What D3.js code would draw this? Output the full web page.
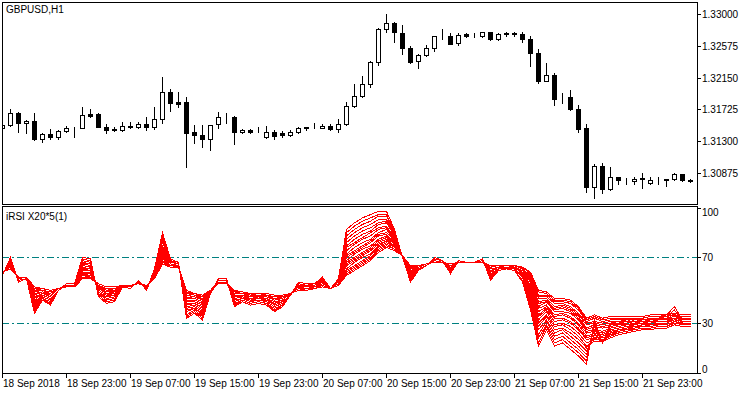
<!DOCTYPE html>
<html>
<head>
<meta charset="utf-8">
<script src="https://cdn.jsdelivr.net/npm/d3@7"></script>
<style>
  body { margin: 0; background: #fff; }
  svg { display: block; font-family: "Liberation Sans", Arial, sans-serif; font-size: 10px; }
</style>
</head>
<body>
<div class="chart"></div>
<script>
// GBPUSD H1 candles
var opens = [1.31483,1.31516,1.31677,1.31543,1.31570,1.31329,1.31396,1.31356,1.31436,1.31476,
  1.31476,1.31663,1.31663,1.31490,1.31456,1.31450,1.31503,1.31490,1.31530,1.31490,
  1.31597,1.31957,1.31824,1.31824,1.31423,1.31383,1.31329,1.31530,1.31623,1.31623,
  1.31423,1.31450,1.31436,1.31356,1.31423,1.31403,1.31383,1.31423,1.31490,1.31476,
  1.31476,1.31503,1.31463,1.31530,1.31770,1.31904,1.32064,1.32358,1.32799,1.32880,
  1.32746,1.32545,1.32372,1.32452,1.32545,1.32719,1.32706,1.32612,1.32733,1.32719,
  1.32706,1.32759,1.32666,1.32746,1.32746,1.32733,1.32666,1.32479,1.32104,1.32185,
  1.31884,1.31891,1.31730,1.31476,1.30688,1.30968,1.30661,1.30821,1.30781,1.30768,
  1.30808,1.30741,1.30781,1.30781,1.30795,1.30861,1.30781];
var highs = [1.31543,1.31730,1.31690,1.31583,1.31677,1.31409,1.31463,1.31450,1.31503,1.31490,
  1.31757,1.31730,1.31677,1.31530,1.31490,1.31557,1.31557,1.31557,1.31623,1.31757,
  1.32158,1.31998,1.31957,1.31891,1.31516,1.31516,1.31516,1.31690,1.31677,1.31637,
  1.31463,1.31463,1.31490,1.31503,1.31450,1.31430,1.31450,1.31490,1.31496,1.31543,
  1.31530,1.31530,1.31597,1.31824,1.32064,1.32171,1.32372,1.32813,1.33000,1.32893,
  1.32853,1.32572,1.32465,1.32586,1.32706,1.32799,1.32746,1.32746,1.32746,1.32746,
  1.32759,1.32766,1.32746,1.32759,1.32766,1.32759,1.32706,1.32532,1.32345,1.32211,
  1.31944,1.31984,1.31784,1.31530,1.30995,1.31008,1.30955,1.30828,1.30808,1.30815,
  1.30875,1.30815,1.30821,1.30795,1.30875,1.30861,1.30795];
var lows = [1.31463,1.31503,1.31423,1.31409,1.31316,1.31289,1.31329,1.31329,1.31423,1.31356,
  1.31470,1.31623,1.31490,1.31409,1.31436,1.31443,1.31476,1.31483,1.31450,1.31463,
  1.31543,1.31703,1.31757,1.30955,1.31276,1.31222,1.31182,1.31476,1.31543,1.31262,
  1.31409,1.31409,1.31423,1.31343,1.31329,1.31356,1.31376,1.31416,1.31450,1.31470,
  1.31470,1.31456,1.31423,1.31516,1.31757,1.31891,1.32024,1.32318,1.32759,1.32626,
  1.32465,1.32345,1.32278,1.32445,1.32505,1.32666,1.32599,1.32586,1.32693,1.32699,
  1.32693,1.32653,1.32659,1.32706,1.32706,1.32626,1.32305,1.32078,1.32098,1.31784,
  1.31810,1.31717,1.31423,1.30621,1.30541,1.30607,1.30654,1.30728,1.30728,1.30728,
  1.30674,1.30728,1.30728,1.30701,1.30781,1.30768,1.30755];
var closes = [1.31523,1.31677,1.31543,1.31570,1.31329,1.31396,1.31356,1.31436,1.31476,1.31470,
  1.31650,1.31643,1.31490,1.31450,1.31463,1.31503,1.31490,1.31530,1.31490,1.31597,
  1.31957,1.31810,1.31797,1.31409,1.31383,1.31329,1.31516,1.31623,1.31617,1.31423,
  1.31450,1.31423,1.31430,1.31423,1.31369,1.31383,1.31423,1.31476,1.31470,1.31480,
  1.31503,1.31463,1.31530,1.31770,1.31904,1.32064,1.32358,1.32799,1.32880,1.32759,
  1.32545,1.32358,1.32452,1.32545,1.32706,1.32713,1.32599,1.32719,1.32706,1.32713,
  1.32759,1.32666,1.32733,1.32739,1.32733,1.32666,1.32479,1.32104,1.32185,1.31864,
  1.31871,1.31730,1.31463,1.30688,1.30968,1.30661,1.30821,1.30781,1.30775,1.30795,
  1.30801,1.30781,1.30787,1.30795,1.30861,1.30781,1.30768];

// the 20 RSI lines of the fan (periods 5..24), one value per bar
var rsi5 = [59,70,55,57,36,44,41,50,54,54,70,69,46,42,43,52,51,56,50,63,85,69,67,33,36,32,48,57,57,40,
  43,41,42,41,37,40,47,55,54,54,58,51,57,87,91,94,96,98,98,87,70,55,62,65,70,68,60,68,67,67,
  69,56,62,63,62,55,38,16,26,16,18,14,10,5,32,18,30,30,31,33,33,34,34,35,40,32,32];
var rsi6 = [59,70,55,57,37,44,42,50,54,54,69,68,47,43,44,52,51,56,50,63,84,69,67,34,37,33,48,57,57,41,
  43,41,42,41,38,40,47,55,54,54,58,51,57,85,89,92,94,96,96,86,70,56,62,65,70,68,60,68,67,67,
  69,57,62,63,62,56,40,18,28,18,20,16,12,7,30,18,29,29,30,32,32,33,33,34,38,31,31];
var rsi7 = [59,69,55,57,38,45,42,50,54,54,68,67,47,43,44,52,51,56,50,62,82,68,67,35,38,34,48,57,57,41,
  44,42,43,42,38,41,47,54,53,54,57,51,56,83,87,90,92,95,95,85,70,56,62,65,70,68,61,68,67,67,
  69,57,62,63,62,56,41,21,29,20,22,18,14,9,28,18,27,28,29,30,31,31,32,32,36,31,31];
var rsi8 = [59,69,56,57,39,45,43,50,54,54,67,66,48,44,45,52,51,56,51,62,81,68,66,37,39,35,48,56,56,42,
  44,42,43,42,39,41,47,54,53,53,57,51,56,81,85,88,90,93,93,84,70,57,63,65,69,68,61,68,67,67,
  69,58,63,63,63,58,43,23,31,22,24,20,16,11,26,19,26,27,28,29,30,30,31,31,35,30,30];
var rsi9 = [60,68,56,57,40,46,44,50,53,53,66,66,48,45,46,52,52,55,51,61,80,68,66,38,39,36,49,56,56,43,
  45,43,44,43,40,42,47,54,53,53,56,51,56,79,83,86,88,91,92,83,70,58,63,65,69,68,62,68,67,67,
  68,59,63,64,63,58,44,26,32,24,26,22,18,13,23,19,24,25,26,28,28,29,29,30,33,29,29];
var rsi10 = [60,68,56,57,41,46,44,50,53,53,66,65,49,45,46,52,52,55,51,61,79,67,66,39,40,37,49,56,56,43,
  45,43,44,43,40,42,47,53,53,53,56,51,56,77,81,84,86,90,91,83,70,58,63,65,69,68,62,68,67,67,
  68,59,63,64,63,58,46,28,34,26,27,24,20,15,21,19,23,24,25,26,27,27,28,28,31,29,29];
var rsi11 = [60,67,56,57,42,47,45,50,53,53,65,64,49,46,47,52,52,55,51,61,77,67,66,40,41,38,49,56,56,44,
  45,44,44,44,41,43,47,53,52,53,56,51,55,76,79,82,85,88,89,82,70,59,63,65,69,68,62,68,67,67,
  68,60,63,64,63,59,47,30,35,28,29,26,22,16,19,19,21,23,24,25,26,26,27,27,29,28,28];
var rsi12 = [60,67,56,57,43,47,45,50,53,53,64,63,50,47,47,52,52,55,51,60,76,67,66,41,42,39,49,56,56,45,
  46,44,45,44,42,43,47,53,52,53,55,51,55,74,78,81,83,87,88,81,70,60,63,65,69,68,63,68,67,67,
  68,60,63,64,63,59,49,32,37,29,30,28,24,18,20,20,22,24,25,26,27,27,28,28,30,29,29];
var rsi13 = [60,66,57,58,44,48,46,51,53,53,63,63,50,47,48,53,52,55,52,60,75,66,65,42,42,40,49,55,55,45,
  46,45,45,45,42,44,48,52,52,52,55,51,55,72,76,79,81,85,87,80,71,60,64,66,68,67,63,67,67,67,
  68,61,64,64,64,60,50,34,38,31,32,30,26,20,21,21,23,25,26,26,27,27,28,28,30,29,29];
var rsi14 = [60,66,57,58,45,48,46,51,53,53,63,62,51,48,48,53,52,55,52,60,74,66,65,43,43,41,49,55,55,46,
  46,45,45,45,43,44,48,52,52,52,55,51,55,71,74,77,80,84,85,80,71,61,64,66,68,67,63,67,67,67,
  68,61,64,64,64,60,51,35,39,33,33,31,27,21,23,22,24,26,26,27,28,28,29,29,31,30,30];
var rsi15 = [60,66,57,58,46,48,47,51,53,53,62,62,51,48,49,53,52,55,52,59,73,66,65,44,43,41,49,55,55,46,
  47,45,46,45,43,44,48,52,52,52,54,51,55,70,73,76,79,83,84,79,71,61,64,66,68,67,64,67,67,67,
  68,62,64,64,64,61,52,37,40,34,35,33,29,22,24,23,25,26,27,28,28,29,29,29,31,30,30];
var rsi16 = [60,65,57,58,47,49,47,51,53,53,61,61,51,49,49,53,52,55,52,59,72,66,65,44,44,42,49,55,55,47,
  47,46,46,46,44,45,48,52,51,52,54,51,54,68,72,75,77,81,83,78,71,62,64,66,68,67,64,67,67,67,
  68,62,64,64,64,61,53,39,41,35,36,34,30,24,25,24,26,27,28,28,29,29,30,30,32,31,31];
var rsi17 = [60,65,57,58,48,49,47,51,53,53,61,60,52,49,49,53,52,55,52,59,71,65,65,45,45,43,49,55,55,47,
  47,46,46,46,44,45,48,51,51,52,54,51,54,67,70,73,76,80,82,78,71,62,64,66,68,67,64,67,67,67,
  68,62,64,64,64,61,55,40,43,37,37,36,32,25,26,25,27,28,29,29,30,30,31,31,32,31,31];
var rsi18 = [61,65,57,58,48,49,48,51,52,52,60,60,52,50,50,53,53,54,52,58,71,65,65,46,45,43,50,55,55,48,
  48,46,47,46,45,45,48,51,51,52,53,51,54,66,69,72,75,79,81,77,71,63,64,66,68,67,65,67,67,67,
  67,63,64,65,64,62,55,42,43,38,39,37,33,26,28,27,28,29,29,30,30,31,31,31,33,32,32];
var rsi19 = [61,64,57,58,49,50,48,51,52,52,60,59,52,50,50,53,53,54,52,58,70,65,65,47,46,44,50,55,55,48,
  48,47,47,47,45,46,48,51,51,52,53,51,54,65,68,71,74,78,80,77,71,63,64,66,68,67,65,67,67,67,
  67,63,64,65,64,62,56,43,44,39,40,38,34,27,29,28,29,30,30,31,31,32,32,32,33,32,32];
var rsi20 = [61,64,58,58,49,50,49,51,52,52,59,59,53,50,51,53,53,54,53,58,69,65,64,47,46,45,50,54,54,48,
  48,47,47,47,45,46,48,51,51,51,53,51,54,63,67,70,72,77,80,76,71,63,65,66,67,67,65,67,67,67,
  67,64,65,65,65,63,57,45,45,40,41,39,35,29,30,29,30,31,31,31,32,32,33,33,34,33,33];
var rsi21 = [61,64,58,58,50,50,49,51,52,52,59,58,53,51,51,53,53,54,53,58,68,65,64,48,47,45,50,54,54,49,
  48,47,47,47,46,46,48,51,50,51,53,51,53,62,65,68,71,76,79,76,71,64,65,66,67,67,65,67,67,67,
  67,64,65,65,65,63,58,46,46,42,42,40,36,30,31,30,31,31,32,32,32,33,33,33,34,33,33];
var rsi22 = [61,63,58,58,51,50,49,51,52,52,58,58,53,51,51,53,53,54,53,57,68,64,64,49,47,46,50,54,54,49,
  49,47,48,47,46,46,48,50,50,51,52,51,53,61,64,67,70,75,78,75,71,64,65,66,67,67,66,67,67,67,
  67,64,65,65,65,63,59,47,47,43,43,42,38,31,33,31,32,32,32,33,33,34,34,34,35,34,34];
var rsi23 = [61,63,58,58,51,51,50,51,52,52,58,57,54,52,52,53,53,54,53,57,67,64,64,49,48,46,50,54,54,50,
  49,48,48,48,47,47,48,50,50,51,52,51,53,60,63,66,69,74,77,75,71,65,65,66,67,67,66,67,67,67,
  67,65,65,65,65,64,60,49,48,44,44,43,39,32,34,32,33,33,33,33,33,34,34,34,35,34,34];
var rsi24 = [61,63,58,58,52,51,50,51,52,52,57,57,54,52,52,53,53,54,53,57,66,64,64,50,48,47,50,54,54,50,
  49,48,48,48,47,47,48,50,50,51,52,51,53,59,62,65,68,73,76,74,71,65,65,66,67,67,66,67,67,67,
  67,65,65,65,65,64,61,50,49,45,45,44,40,33,35,33,34,34,34,34,34,35,35,35,36,35,35];

var rsiSeries = [rsi24, rsi23, rsi22, rsi21, rsi20, rsi19, rsi18, rsi17, rsi16, rsi15,
  rsi14, rsi13, rsi12, rsi11, rsi10, rsi9, rsi8, rsi7, rsi6, rsi5];

var priceTicks = [1.33000, 1.32575, 1.32150, 1.31725, 1.31300, 1.30875];
var rsiTicks = [100, 70, 30, 0];
var rsiLevels = [70, 30];
var firstBar = new Date(2018, 8, 18, 15, 0);

var svgWidth = 750, svgHeight = 394;
var svg = d3.select(".chart").append("svg")
  .attr("width", svgWidth)
  .attr("height", svgHeight);

svg.append("rect").attr("width", svgWidth).attr("height", svgHeight).attr("fill", "#fff");

// panes
var plotLeft = 2, plotRight = 697;
var mainTop = 2, mainBottom = 204;
var subTop = 206, subBottom = 373;

var times = d3.range(opens.length).map(i => d3.timeHour.offset(firstBar, i));

var x = d3.scalePoint().domain(d3.range(opens.length)).range([2, 690]);
var yPrice = d3.scaleLinear().domain([1.30875, 1.33000]).range([173, 14]);
var yRsi = d3.scaleLinear().domain([0, 100]).range([372.5, 208]);

var defs = svg.append("defs");
defs.append("clipPath").attr("id", "clipMain").append("rect")
  .attr("x", plotLeft + 1).attr("y", mainTop + 1)
  .attr("width", plotRight - plotLeft - 1).attr("height", mainBottom - mainTop - 1);
defs.append("clipPath").attr("id", "clipSub").append("rect")
  .attr("x", plotLeft + 1).attr("y", subTop + 1)
  .attr("width", plotRight - plotLeft - 1).attr("height", subBottom - subTop - 1);

// ---------- candles
var candles = svg.append("g")
  .attr("clip-path", "url(#clipMain)")
  .attr("shape-rendering", "crispEdges")
  .selectAll("g")
  .data(d3.range(opens.length))
  .enter()
  .append("g");

candles.append("line")
  .attr("x1", i => x(i) + 0.5).attr("x2", i => x(i) + 0.5)
  .attr("y1", i => Math.round(yPrice(highs[i])))
  .attr("y2", i => Math.round(yPrice(lows[i])) + 1)
  .attr("stroke", "#000");

candles.append("rect")
  .attr("x", i => x(i) - 1.5)
  .attr("y", i => Math.round(yPrice(Math.max(opens[i], closes[i]))) + 0.5)
  .attr("width", 4)
  .attr("height", i => Math.max(0, Math.round(yPrice(Math.min(opens[i], closes[i]))) - Math.round(yPrice(Math.max(opens[i], closes[i])))))
  .attr("fill", i => closes[i] >= opens[i] ? "#fff" : "#000")
  .attr("stroke", "#000");

// ---------- RSI levels and lines
var sub = svg.append("g").attr("clip-path", "url(#clipSub)");

sub.selectAll("line.level")
  .data(rsiLevels)
  .enter()
  .append("line")
  .classed("level", true)
  .attr("x1", plotLeft).attr("x2", plotRight)
  .attr("y1", d => Math.round(yRsi(d)) + 0.5)
  .attr("y2", d => Math.round(yRsi(d)) + 0.5)
  .attr("stroke", "#008080")
  .attr("stroke-dasharray", "7,3,2,3")
  .attr("shape-rendering", "crispEdges");

var rsiLine = d3.line()
  .x((d, i) => x(i) + 0.5)
  .y(d => yRsi(d));

// aliased 1px lines, like the terminal draws them
sub.selectAll("path.rsi")
  .data(rsiSeries)
  .enter()
  .append("path")
  .classed("rsi", true)
  .attr("d", rsiLine)
  .attr("fill", "none")
  .attr("stroke", "#ff0000")
  .attr("stroke-width", 1)
  .attr("shape-rendering", "crispEdges");

// ---------- frames
svg.append("rect")
  .attr("x", plotLeft + 0.5).attr("y", mainTop + 0.5)
  .attr("width", plotRight - plotLeft).attr("height", mainBottom - mainTop)
  .attr("fill", "none").attr("stroke", "#000").attr("shape-rendering", "crispEdges");
svg.append("rect")
  .attr("x", plotLeft + 0.5).attr("y", subTop + 0.5)
  .attr("width", plotRight - plotLeft).attr("height", subBottom - subTop)
  .attr("fill", "none").attr("stroke", "#000").attr("shape-rendering", "crispEdges");

// ---------- price axis
var priceAxis = svg.append("g");
priceAxis.selectAll("line")
  .data(priceTicks)
  .enter()
  .append("line")
  .attr("x1", plotRight).attr("x2", plotRight + 4)
  .attr("y1", d => Math.round(yPrice(d)) + 0.5)
  .attr("y2", d => Math.round(yPrice(d)) + 0.5)
  .attr("stroke", "#000").attr("shape-rendering", "crispEdges");
priceAxis.selectAll("text")
  .data(priceTicks)
  .enter()
  .append("text")
  .attr("x", plotRight + 5)
  .attr("y", d => Math.round(yPrice(d)) + 4)
  .text(d => d.toFixed(5));

// ---------- RSI axis
var rsiAxis = svg.append("g");
rsiAxis.selectAll("line")
  .data(rsiTicks)
  .enter()
  .append("line")
  .attr("x1", plotRight).attr("x2", plotRight + 4)
  .attr("y1", d => Math.round(yRsi(d)) + 0.5)
  .attr("y2", d => Math.round(yRsi(d)) + 0.5)
  .attr("stroke", "#000").attr("shape-rendering", "crispEdges");
rsiAxis.selectAll("text")
  .data(rsiTicks)
  .enter()
  .append("text")
  .attr("x", plotRight + 5)
  .attr("y", d => Math.round(yRsi(d)) + 4 + (d === 100 ? 4 : d === 0 ? -4 : 0))
  .text(d => d);

// ---------- time axis
var tickBars = d3.range(0, opens.length, 8);
var fmt = d3.timeFormat("%d %b %H:%M");
var timeAxis = svg.append("g");
timeAxis.selectAll("line")
  .data(tickBars)
  .enter()
  .append("line")
  .attr("x1", i => x(i) + 0.5).attr("x2", i => x(i) + 0.5)
  .attr("y1", subBottom).attr("y2", subBottom + 5)
  .attr("stroke", "#000").attr("shape-rendering", "crispEdges");
timeAxis.selectAll("text")
  .data(tickBars)
  .enter()
  .append("text")
  .attr("x", i => x(i) + 1)
  .attr("y", 387)
  .text(i => i === 0 ? d3.timeFormat("%d %b %Y")(times[i]) : fmt(times[i]));

// ---------- titles
svg.append("text").attr("x", 6).attr("y", 13).text("GBPUSD,H1");
svg.append("text").attr("x", 6).attr("y", 220).text("iRSI X20*5(1)");
</script>
</body>
</html>
